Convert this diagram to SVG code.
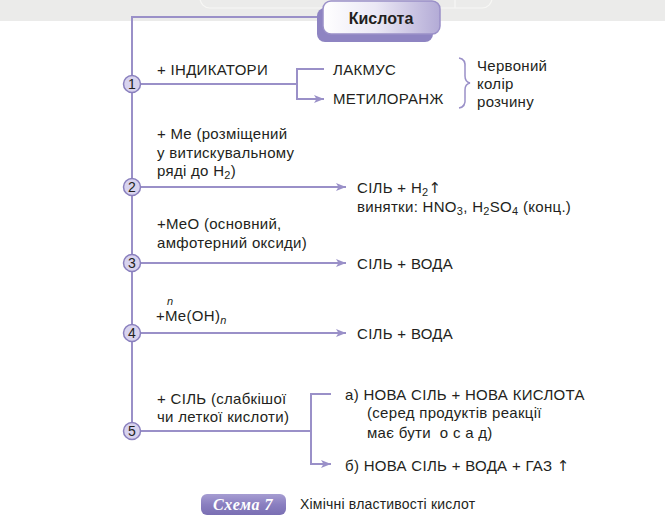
<svg xmlns="http://www.w3.org/2000/svg" width="665" height="517" viewBox="0 0 665 517">
<defs>
<linearGradient id="boxg" x1="0" y1="0" x2="1" y2="0">
<stop offset="0" stop-color="#ffffff"/>
<stop offset="0.45" stop-color="#ebe8f5"/>
<stop offset="1" stop-color="#b3abd6"/>
</linearGradient>
<linearGradient id="badg" x1="0" y1="0" x2="0" y2="1">
<stop offset="0" stop-color="#a69dd2"/>
<stop offset="0.5" stop-color="#8a7fc0"/>
<stop offset="1" stop-color="#7a6fb3"/>
</linearGradient>
<marker id="arr" viewBox="0 0 10 8" refX="10" refY="4" markerWidth="10" markerHeight="8" markerUnits="userSpaceOnUse" orient="auto">
<path d="M0,0 L10,4 L0,8 L2.5,4 Z" fill="#9a90c8"/>
</marker>
<style>
text{font-family:"Liberation Sans",Arial,sans-serif;fill:#231f20;font-size:15px;letter-spacing:0.3px}
.ln{stroke:#9a90c8;stroke-width:2;fill:none}
.ar{stroke:#9a90c8;stroke-width:2;fill:none;marker-end:url(#arr)}
.c{fill:#d8d3ee;stroke:#8a80be;stroke-width:1.5}
.n{font-size:14px;text-anchor:middle;letter-spacing:0}
.sub{font-size:11px}
.up{font-family:"DejaVu Sans",sans-serif;font-size:15px}
</style>
</defs>
<rect x="0" y="0" width="665" height="21" fill="#ebebea"/>
<rect x="200" y="-22" width="292" height="30" rx="10" fill="none" stroke="#f7f7f5" stroke-width="1.2"/>
<line x1="455" y1="0" x2="455" y2="8" stroke="#f7f7f5" stroke-width="1.2"/>

<g id="connectors">
<polyline class="ln" points="326,17 132,17 132,431"/>
<line class="ln" x1="140" y1="84" x2="297" y2="84"/>
<polyline class="ar" points="324,69 297,69 297,99 324,99"/>
<line class="ar" x1="140" y1="187" x2="346" y2="187"/>
<line class="ar" x1="140" y1="263" x2="346" y2="263"/>
<line class="ar" x1="140" y1="333" x2="346" y2="333"/>
<line class="ln" x1="140" y1="431" x2="311" y2="431"/>
<polyline class="ar" points="331,394 311,394 311,464 331,464"/>
</g>

<g id="kislota">
<rect x="317" y="8" width="116" height="34" rx="8" fill="#8e84c2"/>
<rect x="323" y="1" width="117" height="33" rx="8" fill="url(#boxg)" stroke="#9a90c8" stroke-width="1.5"/>
<text x="381" y="24" text-anchor="middle" font-weight="bold" style="font-size:16px;letter-spacing:0">Кислота</text>
</g>

<g id="n1">
<circle class="c" cx="132" cy="84" r="8.5"/>
<text class="n" x="132" y="89">1</text>
<text x="157" y="75">+ ІНДИКАТОРИ</text>
</g>
<g id="lakmus"><text x="333" y="75">ЛАКМУС</text></g>
<g id="metyl"><text x="333" y="104">МЕТИЛОРАНЖ</text></g>
<g id="brace">
<path d="M459,58 Q466,59 465,68 L465,76 Q465,82 470,83 Q465,84 465,90 L465,98 Q466,107 459,108" fill="none" stroke="#9a90c8" stroke-width="1.5"/>
<text x="477" y="71">Червоний</text>
<text x="477" y="89">колір</text>
<text x="477" y="107">розчину</text>
</g>

<g id="n2">
<circle class="c" cx="132" cy="187" r="8.5"/>
<text class="n" x="132" y="192">2</text>
<text x="157" y="139">+ Me (розміщений</text>
<text x="157" y="158">у витискувальному</text>
<text x="157" y="176">ряді до H<tspan class="sub" dy="3">2</tspan><tspan dy="-3">)</tspan></text>
</g>
<g id="r2">
<text x="357" y="193">СІЛЬ + H<tspan class="sub" dy="3">2</tspan><tspan class="up" dy="-3">↑</tspan></text>
<text x="357" y="212">винятки: HNO<tspan class="sub" dy="3">3</tspan><tspan dy="-3">, H</tspan><tspan class="sub" dy="3">2</tspan><tspan dy="-3">SO</tspan><tspan class="sub" dy="3">4</tspan><tspan dy="-3"> (конц.)</tspan></text>
</g>

<g id="n3">
<circle class="c" cx="132" cy="263" r="8.5"/>
<text class="n" x="132" y="268">3</text>
<text x="157" y="229">+MeO (основний,</text>
<text x="157" y="248">амфотерний оксиди)</text>
</g>
<g id="r3"><text x="357" y="269">СІЛЬ + ВОДА</text></g>

<g id="n4">
<circle class="c" cx="132" cy="333" r="8.5"/>
<text class="n" x="132" y="338">4</text>
<text x="156" y="321">+Me(OH)<tspan class="sub" font-style="italic" dy="3">n</tspan></text>
<text x="167" y="305" class="sub" font-style="italic">n</text>
</g>
<g id="r4"><text x="357" y="339">СІЛЬ + ВОДА</text></g>

<g id="n5">
<circle class="c" cx="132" cy="431" r="8.5"/>
<text class="n" x="132" y="436">5</text>
<text x="157" y="404">+ СІЛЬ (слабкішої</text>
<text x="157" y="422">чи леткої кислоти)</text>
</g>
<g id="r5a">
<text x="345" y="400">а) НОВА СІЛЬ + НОВА КИСЛОТА</text>
<text x="367" y="418">(серед продуктів реакції</text>
<text x="367" y="438" xml:space="preserve">має бути  о с а д)</text>
</g>
<g id="r5b"><text x="345" y="471">б) НОВА СІЛЬ + ВОДА + ГАЗ <tspan class="up">↑</tspan></text></g>

<g id="caption">
<rect x="201" y="494" width="85" height="21" rx="6" fill="url(#badg)"/>
<text x="243" y="510" text-anchor="middle" font-style="italic" font-weight="bold" style="fill:#ffffff;font-family:'Liberation Serif',serif;font-size:16px;letter-spacing:0.5px">Схема 7</text>
<text x="300" y="509" style="font-size:14px;letter-spacing:0.2px">Хімічні властивості кислот</text>
</g>
</svg>
